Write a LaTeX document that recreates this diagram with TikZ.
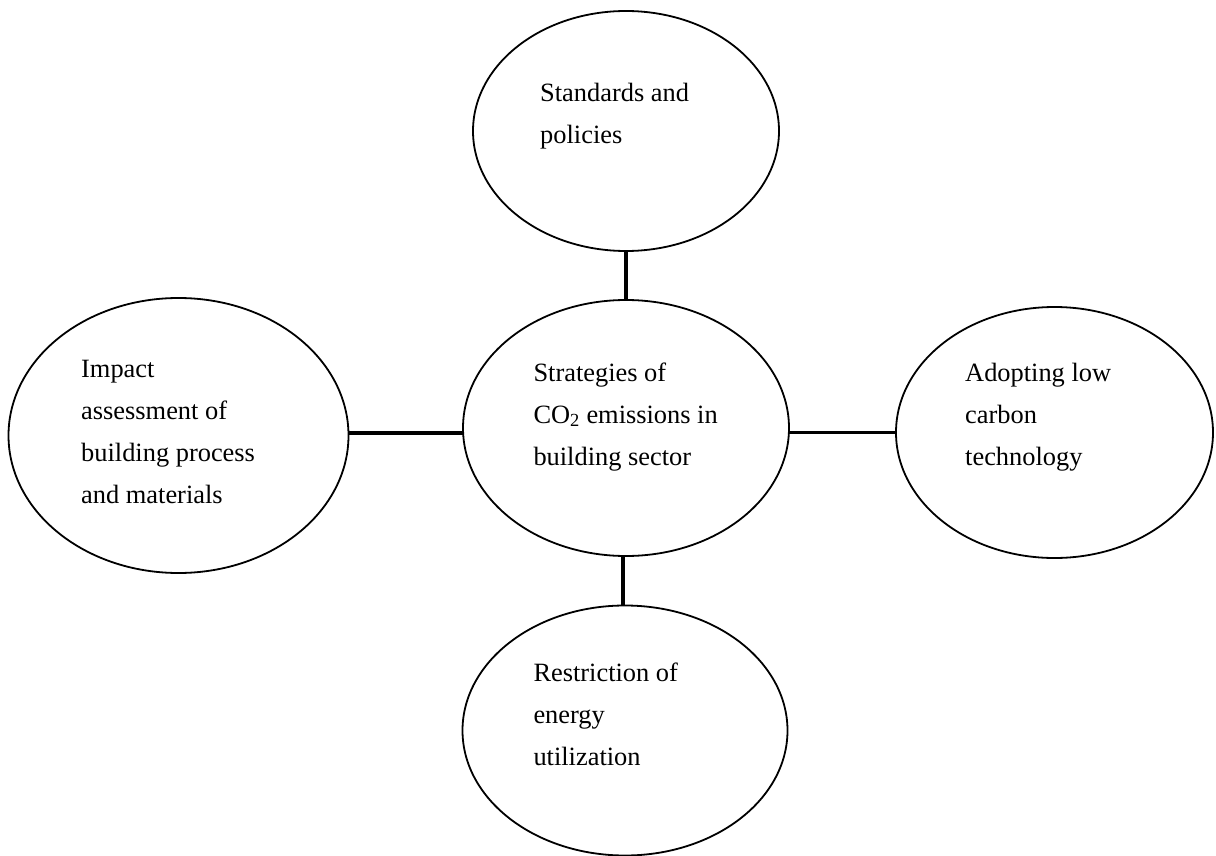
\documentclass[tikz,border=0pt]{standalone}
\usepackage{fontspec}
\setmainfont{Liberation Serif}
\usetikzlibrary{shapes.geometric}
\begin{document}
\begin{tikzpicture}[x=1pt,y=-1pt,
  bubble/.style={draw, ellipse, line width=1.8pt, inner sep=0pt, outer sep=0pt},
  link/.style={draw, line width=3.6pt},
  lbl/.style={anchor=base west, inner sep=0pt, font=\fontsize{26.4pt}{42pt}\selectfont}]
\useasboundingbox (0,0) rectangle (1216,856);
% ellipses
\node[bubble, minimum width=306pt, minimum height=240pt] (T) at (626,131) {};
\node[bubble, minimum width=326pt, minimum height=256pt] (C) at (626,428) {};
\node[bubble, minimum width=340pt, minimum height=275pt] (L) at (178.5,435.5) {};
\node[bubble, minimum width=317pt, minimum height=251pt] (R) at (1054.5,432.5) {};
\node[bubble, minimum width=325pt, minimum height=250pt] (B) at (625,730.5) {};
% texts
\node[lbl] (tT) at (540,101.7) {\begin{tabular}[t]{@{}l@{}}Standards and\\policies\end{tabular}};
\node[lbl] (tC) at (533.3,381) {\begin{tabular}[t]{@{}l@{}}Strategies of\\CO\textsubscript{2} emissions in\\building sector\end{tabular}};
\node[lbl] (tL) at (81,377.7) {\begin{tabular}[t]{@{}l@{}}Impact\\assessment of\\building process\\and materials\end{tabular}};
\node[lbl] (tR) at (965,381.7) {\begin{tabular}[t]{@{}l@{}}Adopting low\\carbon\\technology\end{tabular}};
\node[lbl] (tB) at (533.3,681.7) {\begin{tabular}[t]{@{}l@{}}Restriction of\\energy\\utilization\end{tabular}};
% connectors
\coordinate (lh) at (0,433);
\coordinate (rh) at (0,432.3);
\coordinate (bv) at (623,0);
\draw[link] (T.south) -- (C.north);
\draw[link] (L.east |- lh) -- (C.west |- lh);
\draw[link] (C.east |- rh) -- (R.west |- rh);
\draw[link] (C.south -| bv) -- (B.north -| bv);
\end{tikzpicture}
\end{document}
